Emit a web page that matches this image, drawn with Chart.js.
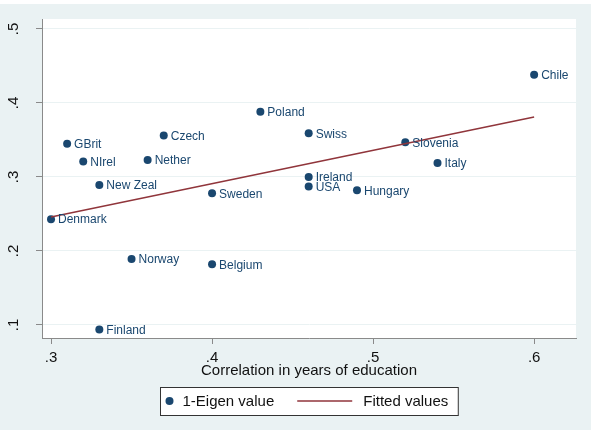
<!DOCTYPE html>
<html lang="en">
<head>
  <meta charset="UTF-8">
  <title>Eigen value vs correlation in education</title>
  <script src="https://cdn.jsdelivr.net/npm/chart.js"></script>
  <style>
    html, body { margin: 0; padding: 0; background: #fff; }
    canvas { display: block; }
  </style>
</head>
<body>
<canvas id="eigenChart" width="595" height="430"></canvas>

<script>
  // values
  var countries = ['Chile', 'Denmark', 'GBrit', 'NIrel', 'Czech', 'Nether', 'New Zeal', 'Sweden',
    'Poland', 'Swiss', 'Slovenia', 'Italy', 'Ireland', 'USA', 'Hungary', 'Norway', 'Belgium', 'Finland'];
  var corrEdu = [0.600, 0.300, 0.310, 0.320, 0.370, 0.360, 0.330, 0.400,
    0.430, 0.460, 0.520, 0.540, 0.460, 0.460, 0.490, 0.350, 0.400, 0.330];
  var eigen = [0.438, 0.243, 0.345, 0.321, 0.356, 0.323, 0.289, 0.278,
    0.388, 0.359, 0.347, 0.319, 0.300, 0.287, 0.282, 0.189, 0.182, 0.094];
  var fitX = [0.3, 0.6];
  var fitY = [0.246, 0.381];
  var xTicks = [0.3, 0.4, 0.5, 0.6];
  var yTicks = [0.1, 0.2, 0.3, 0.4, 0.5];
  var tickText = { 0.1: '.1', 0.2: '.2', 0.3: '.3', 0.4: '.4', 0.5: '.5', 0.6: '.6' };

  var navy = '#1a476f';
  var maroon = '#90353b';
  var axisGray = '#8a8a8a';
  var font = '"Liberation Sans", Arial, sans-serif';

  var scatterPts = corrEdu.map(function(x, i) { return { x: x, y: eigen[i] }; });
  var fitPts = fitX.map(function(x, i) { return { x: x, y: fitY[i] }; });

  // stata-ish background: bluish outer region, white plot region
  var background = {
    id: 'background',
    beforeDraw: function(chart) {
      var ctx = chart.ctx, a = chart.chartArea;
      ctx.save();
      ctx.fillStyle = '#ffffff';
      ctx.fillRect(0, 0, chart.width, chart.height);
      ctx.fillStyle = '#eaf2f3';
      ctx.fillRect(0, 4, 591, chart.height - 4);
      ctx.fillStyle = '#ffffff';
      ctx.fillRect(a.left, a.top, a.right - a.left, a.bottom - a.top);
      ctx.restore();
    }
  };

  // rotated y tick labels like stata draws them
  var yLabels = {
    id: 'yLabels',
    afterDraw: function(chart) {
      var ctx = chart.ctx, y = chart.scales.y;
      ctx.save();
      ctx.fillStyle = '#111';
      ctx.font = '15px ' + font;
      ctx.textAlign = 'center';
      ctx.textBaseline = 'alphabetic';
      yTicks.forEach(function(v) {
        ctx.save();
        ctx.translate(18, y.getPixelForValue(v));
        ctx.rotate(-Math.PI / 2);
        ctx.fillText(tickText[v], 0, 0);
        ctx.restore();
      });
      ctx.restore();
    }
  };

  // country names to the right of each marker
  var pointLabels = {
    id: 'pointLabels',
    afterDatasetsDraw: function(chart) {
      var ctx = chart.ctx;
      var meta = chart.getDatasetMeta(1);
      ctx.save();
      ctx.fillStyle = navy;
      ctx.font = '12px ' + font;
      ctx.textAlign = 'left';
      ctx.textBaseline = 'middle';
      meta.data.forEach(function(pt, i) {
        ctx.fillText(countries[i], pt.x + 7, pt.y + 1);
      });
      ctx.restore();
    }
  };

  // framed legend under the axis title
  var legendBox = {
    id: 'legendBox',
    afterDraw: function(chart) {
      var ctx = chart.ctx;
      ctx.save();
      ctx.font = '15px ' + font;
      var t1 = '1-Eigen value', t2 = 'Fitted values';
      var w1 = ctx.measureText(t1).width, w2 = ctx.measureText(t2).width;
      var total = 22 + w1 + 23 + 55 + 11 + w2 + 10;
      var left = Math.round(309 - total / 2) + 0.5;
      var top = 387.5, h = 28, cy = 401;
      ctx.fillStyle = '#fff';
      ctx.fillRect(left, top, total, h);
      ctx.strokeStyle = '#333';
      ctx.lineWidth = 1;
      ctx.strokeRect(left, top, total, h);
      ctx.fillStyle = navy;
      ctx.beginPath();
      ctx.arc(left + 9, cy, 4, 0, Math.PI * 2);
      ctx.fill();
      ctx.fillStyle = '#111';
      ctx.textBaseline = 'middle';
      ctx.fillText(t1, left + 22, cy + 1);
      var lx = left + 22 + w1 + 23;
      ctx.strokeStyle = maroon;
      ctx.lineWidth = 1.5;
      ctx.beginPath();
      ctx.moveTo(lx, cy);
      ctx.lineTo(lx + 55, cy);
      ctx.stroke();
      ctx.fillText(t2, lx + 55 + 11, cy + 1);
      ctx.restore();
    }
  };

  var ctx = document.getElementById('eigenChart').getContext('2d');
  new Chart(ctx, {
    type: 'scatter',
    data: {
      datasets: [{
        label: 'Fitted values',
        data: fitPts,
        showLine: true,
        borderColor: maroon,
        borderWidth: 1.5,
        pointRadius: 0,
        order: 0
      }, {
        label: '1-Eigen value',
        data: scatterPts,
        backgroundColor: navy,
        borderColor: navy,
        pointRadius: 4,
        borderWidth: 0,
        clip: false,
        order: 1
      }]
    },
    options: {
      responsive: false,
      animation: false,
      devicePixelRatio: 1,
      layout: { padding: { top: 19, right: 19, left: 0, bottom: 48 } },
      plugins: {
        legend: { display: false },
        tooltip: { enabled: false }
      },
      scales: {
        x: {
          type: 'linear',
          min: 0.2944,
          max: 0.626,
          afterBuildTicks: function(s) { s.ticks = xTicks.map(function(v) { return { value: v }; }); },
          afterFit: function(s) { s.height = 44; },
          grid: { drawOnChartArea: false, drawTicks: true, tickLength: 6, tickColor: axisGray },
          border: { display: true, color: axisGray, width: 1 },
          ticks: {
            color: '#111',
            font: { family: font, size: 15 },
            padding: 5,
            maxRotation: 0,
            callback: function(v) { return tickText[Math.round(v * 10) / 10]; }
          },
          title: {
            display: true,
            text: 'Correlation in years of education',
            color: '#111',
            font: { family: font, size: 15 },
            padding: { top: 0, bottom: 2 }
          }
        },
        y: {
          type: 'linear',
          min: 0.0824,
          max: 0.5135,
          afterBuildTicks: function(s) { s.ticks = yTicks.map(function(v) { return { value: v }; }); },
          afterFit: function(s) { s.width = 42; },
          grid: { color: '#eaf2f3', lineWidth: 1, drawTicks: true, tickLength: 6, tickColor: axisGray },
          border: { display: true, color: axisGray, width: 1 },
          ticks: { display: false }
        }
      }
    },
    plugins: [background, pointLabels, yLabels, legendBox]
  });
</script>
</body>
</html>
